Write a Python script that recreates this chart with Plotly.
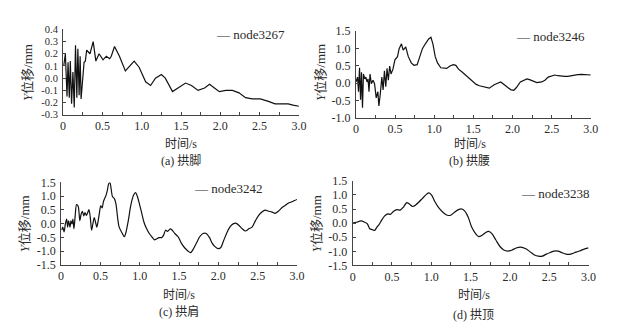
import plotly.graph_objects as go

W, H = 636, 325

# ---------------- data ----------------
t_a = [0.008, 0.029, 0.050, 0.063, 0.079, 0.092, 0.108, 0.125, 0.142, 0.158, 0.175, 0.188, 0.204, 0.217, 0.229,
       0.25, 0.267, 0.283, 0.30, 0.342, 0.383, 0.417, 0.458, 0.508, 0.55, 0.592, 0.613, 0.654, 0.717, 0.792,
       0.904, 0.967, 1.05, 1.113, 1.175, 1.25, 1.30, 1.392, 1.467, 1.558, 1.633, 1.717, 1.80, 1.863, 1.925,
       1.988, 2.071, 2.154, 2.238, 2.321, 2.404, 2.508, 2.613, 2.696, 2.779, 2.863, 2.925, 3.0]
v_a = [0.10, 0.20, -0.15, 0.13, -0.16, 0.14, -0.21, 0.05, -0.24, 0.27, -0.16, 0.24, -0.14, 0.18, -0.17,
       0.03, 0.13, 0.14, 0.23, 0.20, 0.30, 0.14, 0.20, 0.15, 0.18, 0.16, 0.18, 0.26, 0.18, 0.06,
       0.14, 0.09, -0.03, -0.06, 0.0, 0.03, 0.0, -0.11, -0.08, -0.04, -0.06, -0.10, -0.08, -0.05, -0.08,
       -0.11, -0.10, -0.10, -0.12, -0.16, -0.17, -0.17, -0.19, -0.21, -0.21, -0.21, -0.22, -0.23]

t_b = [0.0, 0.021, 0.033, 0.046, 0.059, 0.071, 0.084, 0.096, 0.113, 0.126, 0.142, 0.155, 0.167, 0.18, 0.197,
       0.218, 0.238, 0.259, 0.280, 0.293, 0.310, 0.331, 0.347, 0.364, 0.381, 0.397, 0.414, 0.431, 0.448, 0.473,
       0.498, 0.531, 0.552, 0.582, 0.603, 0.636, 0.669, 0.707, 0.741, 0.782, 0.816, 0.849, 0.887, 0.929, 0.958,
       0.983, 1.013, 1.042, 1.084, 1.126, 1.159, 1.201, 1.243, 1.276, 1.31, 1.36, 1.41, 1.452, 1.494, 1.536,
       1.577, 1.64, 1.703, 1.766, 1.849, 1.912, 1.975, 2.017, 2.05, 2.10, 2.142, 2.184, 2.226, 2.268, 2.31,
       2.372, 2.414, 2.456, 2.498, 2.54, 2.582, 2.623, 2.665, 2.707, 2.749, 2.791, 2.833, 2.883, 2.937, 3.0]
v_b = [0.03, 0.17, -0.25, 0.44, -0.48, 0.31, -0.71, 0.26, 0.12, 0.17, 0.03, 0.12, -0.25, 0.26, -0.02,
       0.08, -0.02, -0.43, -0.25, -0.66, -0.34, 0.17, -0.20, 0.35, -0.11, 0.42, 0.08, 0.49, 0.26, 0.40,
       0.67, 0.76, 0.99, 1.13, 0.95, 1.04, 0.76, 0.58, 0.51, 0.53, 0.76, 0.99, 1.13, 1.27, 1.32,
       1.13, 0.76, 0.58, 0.44, 0.42, 0.42, 0.49, 0.53, 0.51, 0.40, 0.31, 0.21, 0.12, 0.03, -0.04,
       -0.08, -0.12, -0.15, -0.05, 0.03, -0.08, -0.19, -0.21, -0.13, 0.03, 0.08, 0.12, 0.09, 0.05, 0.01,
       0.03, 0.08, 0.17, 0.21, 0.23, 0.21, 0.19, 0.19, 0.19, 0.21, 0.23, 0.24, 0.25, 0.25, 0.23]

t_c = [0.008, 0.021, 0.038, 0.054, 0.071, 0.083, 0.096, 0.113, 0.125, 0.138, 0.15, 0.163, 0.179, 0.196, 0.217,
       0.238, 0.254, 0.271, 0.288, 0.304, 0.321, 0.338, 0.354, 0.371, 0.388, 0.404, 0.421, 0.438, 0.454, 0.471,
       0.488, 0.504, 0.521, 0.538, 0.554, 0.571, 0.588, 0.604, 0.621, 0.633, 0.654, 0.675, 0.696, 0.721, 0.738,
       0.779, 0.804, 0.821, 0.854, 0.888, 0.921, 0.946, 0.971, 1.004, 1.029, 1.054, 1.088, 1.121, 1.154, 1.188,
       1.213, 1.246, 1.279, 1.304, 1.329, 1.354, 1.388, 1.413, 1.446, 1.488, 1.529, 1.571, 1.613, 1.646, 1.679,
       1.721, 1.763, 1.804, 1.846, 1.888, 1.921, 1.954, 1.996, 2.029, 2.063, 2.104, 2.146, 2.188, 2.229, 2.263,
       2.304, 2.346, 2.388, 2.429, 2.471, 2.513, 2.554, 2.596, 2.638, 2.679, 2.721, 2.763, 2.804, 2.846, 2.888,
       2.929, 2.971, 3.0]
v_c = [-0.24, -0.13, -0.30, -0.01, 0.16, -0.13, 0.10, -0.13, 0.10, -0.01, 0.16, -0.19, 0.28, 0.69, 0.63,
       0.10, 0.34, 0.45, 0.28, 0.40, 0.30, 0.40, 0.51, 0.22, -0.24, -0.01, 0.22, 0.05, -0.13, 0.10,
       0.40, 0.65, 0.57, 0.80, 0.92, 1.03, 1.21, 1.44, 1.50, 1.33, 0.98, 0.92, 0.74, 0.16, -0.13,
       -0.36, -0.48, -0.36, 0.10, 0.69, 1.03, 1.13, 0.98, 0.63, 0.34, 0.05, -0.19, -0.36, -0.48, -0.59,
       -0.56, -0.51, -0.51, -0.42, -0.24, -0.28, -0.19, -0.24, -0.36, -0.48, -0.71, -0.88, -1.00, -1.06, -0.94,
       -0.71, -0.48, -0.36, -0.36, -0.51, -0.71, -0.83, -0.91, -0.88, -0.65, -0.36, -0.13, -0.01, 0.01, -0.07,
       -0.19, -0.27, -0.19, -0.13, 0.10, 0.30, 0.42, 0.49, 0.45, 0.43, 0.37, 0.45, 0.57, 0.65, 0.74,
       0.79, 0.84, 0.88]

t_d = [0.0, 0.05, 0.104, 0.154, 0.188, 0.217, 0.25, 0.279, 0.308, 0.333, 0.363, 0.404, 0.446, 0.479, 0.521,
       0.563, 0.604, 0.646, 0.688, 0.721, 0.763, 0.804, 0.846, 0.888, 0.938, 0.971, 1.004, 1.046, 1.096, 1.154,
       1.204, 1.246, 1.288, 1.346, 1.388, 1.429, 1.471, 1.513, 1.563, 1.604, 1.646, 1.688, 1.729, 1.771, 1.821,
       1.871, 1.921, 1.971, 2.021, 2.079, 2.138, 2.196, 2.254, 2.313, 2.363, 2.413, 2.463, 2.513, 2.563, 2.613,
       2.663, 2.713, 2.771, 2.821, 2.883, 2.938, 3.0]
v_d = [0.0, 0.03, 0.08, 0.03, -0.03, -0.20, -0.23, -0.26, -0.14, -0.06, 0.08, 0.25, 0.33, 0.31, 0.42,
       0.48, 0.46, 0.57, 0.73, 0.68, 0.59, 0.65, 0.76, 0.88, 1.02, 1.07, 0.99, 0.76, 0.54, 0.37,
       0.28, 0.28, 0.37, 0.48, 0.50, 0.42, 0.20, -0.14, -0.37, -0.48, -0.43, -0.34, -0.29, -0.37, -0.60,
       -0.82, -0.95, -0.99, -0.96, -0.88, -0.85, -0.90, -1.01, -1.13, -1.17, -1.17, -1.10, -1.04, -0.99, -0.99,
       -1.05, -1.10, -1.10, -1.05, -0.99, -0.93, -0.88]

names = ["node3267", "node3246", "node3242", "node3238"]
captions = ["(a) 拱脚", "(b) 拱腰", "(c) 拱肩", "(d) 拱顶"]
x_ticks = [0, 0.5, 1.0, 1.5, 2.0, 2.5, 3.0]
x_text = ["0", "0.5", "1.0", "1.5", "2.0", "2.5", "3.0"]
y_ticks_a = [0.4, 0.3, 0.2, 0.1, 0.0, -0.1, -0.2, -0.3]
y_text_a = ["0.4", "0.3", "0.2", "0.1", "0.0", "-0.1", "-0.2", "-0.3"]
y_ticks_b = [1.5, 1.0, 0.5, 0.0, -0.5, -1.0]
y_text_b = ["1.5", "1.0", "0.5", "0.0", "-0.5", "-1.0"]
y_ticks_cd = [1.5, 1.0, 0.5, 0.0, -0.5, -1.0, -1.5]
y_text_cd = ["1.5", "1.0", "0.5", "0.0", "-0.5", "-1.0", "-1.5"]

# ---------------- layout helpers ----------------
FONT = "'Liberation Serif', 'Noto Sans CJK SC', serif"
TXT = "#2a2a2a"
FS = 12

def px_x(p):
    return p / W

def px_y(p):
    return 1 - p / H

# plot areas in pixels: (left, right, top, bottom)
boxes = [(53, 293, 15, 104.3), (351, 590, 16.7, 107.3), (51, 291, 175, 261), (347.7, 587.7, 173.3, 261.7)]
yranges = [(-0.3, 0.4), (-1.0, 1.5), (-1.5, 1.5), (-1.5, 1.5)]
yticks = [(y_ticks_a, y_text_a), (y_ticks_b, y_text_b), (y_ticks_cd, y_text_cd), (y_ticks_cd, y_text_cd)]
ytick_fs = [10.5, 12, 12, 12]
series = [(t_a, v_a, "linear"), (t_b, v_b, "linear"), (t_c, v_c, "spline"), (t_d, v_d, "spline")]

fig = go.Figure()
layout = dict(
    width=W, height=H, margin=dict(l=0, r=0, t=0, b=0),
    paper_bgcolor="white", plot_bgcolor="white",
    showlegend=False, font=dict(family=FONT, size=FS, color=TXT),
)

annotations = []
legend_pos = [(207, 20), (512, 22), (184, 181), (517, 187)]
ytitle_pos = [(17, 60), (315, 60), (14, 218), (311, 218)]
xtitle_pos = [(173, 135), (467, 135), (171, 293), (471, 293)]
cap_pos = [(173, 152), (467, 153), (171, 310), (471, 314)]

for i in range(4):
    l, r, t, b = boxes[i]
    xa = "xaxis" if i == 0 else f"xaxis{i+1}"
    ya = "yaxis" if i == 0 else f"yaxis{i+1}"
    xref = "x" if i == 0 else f"x{i+1}"
    yref = "y" if i == 0 else f"y{i+1}"
    tx, vy, shape = series[i]
    fig.add_trace(go.Scatter(x=tx, y=vy, mode="lines", name=names[i], xaxis=xref, yaxis=yref,
                             line=dict(color="#111111", width=1.2, shape=shape, smoothing=0.8)))
    common = dict(showline=True, linecolor="#444444", linewidth=1, ticks="inside", ticklen=3,
                  tickcolor="#444444", showgrid=False, zeroline=False, mirror=False)
    layout[xa] = dict(domain=[px_x(l), px_x(r)], range=[0, 3], anchor=yref,
                      tickmode="array", tickvals=x_ticks, ticktext=x_text,
                      tickfont=dict(family=FONT, size=FS, color=TXT),
                      minor=dict(ticks="inside", dtick=0.25, ticklen=3, tickcolor="#444444"),
                      **common)
    yv, yt = yticks[i]
    layout[ya] = dict(domain=[px_y(b), px_y(t)], range=list(yranges[i]), anchor=xref,
                      tickmode="array", tickvals=yv, ticktext=yt, ticklabelstandoff=2,
                      tickfont=dict(family=FONT, size=ytick_fs[i], color=TXT), **common)
    lx, ly = legend_pos[i]
    annotations.append(dict(x=px_x(lx), y=px_y(ly), xref="paper", yref="paper", xanchor="left",
                            yanchor="middle", showarrow=False, text="— " + names[i],
                            font=dict(family=FONT, size=FS + 1, color=TXT)))
    yx, yy = ytitle_pos[i]
    annotations.append(dict(x=px_x(yx), y=px_y(yy), xref="paper", yref="paper", xanchor="center",
                            yanchor="middle", showarrow=False, textangle=-90,
                            text="<i>Y</i>位移/mm", font=dict(family=FONT, size=FS + 1, color=TXT)))
    xx, xy = xtitle_pos[i]
    annotations.append(dict(x=px_x(xx), y=px_y(xy), xref="paper", yref="paper", xanchor="center",
                            yanchor="middle", showarrow=False, text="时间/s",
                            font=dict(family=FONT, size=FS, color=TXT)))
    cx, cy = cap_pos[i]
    annotations.append(dict(x=px_x(cx), y=px_y(cy), xref="paper", yref="paper", xanchor="center",
                            yanchor="middle", showarrow=False, text=captions[i],
                            font=dict(family=FONT, size=FS, color=TXT)))

layout["annotations"] = annotations
fig.update_layout(**layout)
fig.write_html("out.html")
